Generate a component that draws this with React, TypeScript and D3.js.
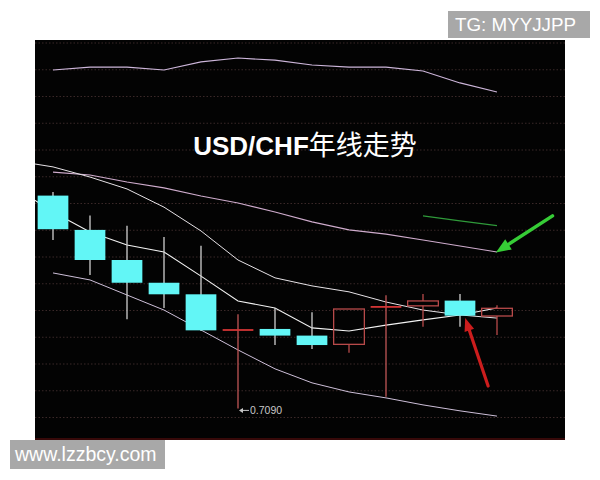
import React from "react";
import * as d3 from "d3";

// ---- data (yearly USD/CHF candles) ----
const years = [2006, 2007, 2008, 2009, 2010, 2011, 2012, 2013, 2014, 2015, 2016, 2017, 2018];
const opens = [1.318, 1.22, 1.134, 1.069, 1.036, 0.933, 0.937, 0.918, 0.893, 0.999, 1.003, 1.018, 0.974];
const highs = [1.328, 1.261, 1.232, 1.2, 1.175, 0.979, 0.997, 0.985, 0.994, 1.033, 1.037, 1.037, 1.005];
const lows = [1.191, 1.091, 0.965, 0.997, 0.931, 0.71, 0.891, 0.88, 0.869, 0.743, 0.943, 0.943, 0.92];
const closes = [1.222, 1.134, 1.069, 1.036, 0.933, 0.935, 0.918, 0.891, 0.994, 1.001, 1.017, 0.975, 0.996];

// indicator lines, one value per year incl. the year before the first candle
const lineYears = [2005, 2006, 2007, 2008, 2009, 2010, 2011, 2012, 2013, 2014, 2015, 2016, 2017, 2018];
const maLong = [null, 1.677, 1.685, 1.685, 1.677, 1.7, 1.711, 1.705, 1.691, 1.685, 1.685, 1.674, 1.64, 1.614];
const upperBand = [null, 1.385, 1.377, 1.357, 1.34, 1.317, 1.297, 1.271, 1.243, 1.22, 1.208, 1.191, 1.174, 1.157];
const maMid = [1.417, 1.4, 1.371, 1.337, 1.285, 1.217, 1.134, 1.083, 1.06, 1.043, 1.014, 0.991, 0.977, 0.968];
const maShort = [1.34, 1.271, 1.214, 1.177, 1.157, 1.088, 1.017, 0.997, 0.94, 0.931, 0.948, 0.963, 0.977, 0.997];
const lowerBand = [null, 1.097, 1.077, 1.034, 0.991, 0.934, 0.877, 0.823, 0.783, 0.757, 0.74, 0.72, 0.703, 0.688];
const greenLine = [null, null, null, null, null, null, null, null, null, null, null, 1.26, 1.246, 1.232];

// annotations
const lowLabel = "0.7090";
const lowLabelYear = 2011;
const lowLabelPrice = 0.71;
const greenArrow = { from: [2019.5, 1.26], to: [2017.97, 1.1554] };
const redArrow = { from: [2017.76, 0.774], to: [2017.14, 0.9683] };

const title1 = "USD/CHF";
const title2 = "年线走势";
const wmTop = "TG: MYYJJPP";
const wmBottom = "www.lzzbcy.com";

// ---- layout ----
const W = 600;
const H = 480;
const plot = { x0: 35, x1: 565, y0: 40, y1: 440 };

export default function App() {
  const x = d3.scaleLinear().domain([2006, 2018]).range([53, 497]);
  const y = d3.scaleLinear().domain([0.6197, 1.7626]).range([440, 40]);
  const step = x(2007) - x(2006);
  const bw = step * 0.83;

  const gridYs = d3.range(15).map((k) => 43 + k * 26.75);

  const mkLine = (vals: (number | null)[]) =>
    d3
      .line<number | null>()
      .defined((d) => d != null)
      .x((_, i) => x(lineYears[i]))
      .y((d) => y(d as number))(vals) || "";

  const lines = [
    { vals: maLong, color: "#cdb6da", w: 1.1 },
    { vals: upperBand, color: "#cfaccd", w: 1.1 },
    { vals: maMid, color: "#e6e2e6", w: 1.0 },
    { vals: maShort, color: "#f2f2f2", w: 1.1 },
    { vals: lowerBand, color: "#cdbfd8", w: 1.0 },
    { vals: greenLine, color: "#2f9a3a", w: 1.2 },
  ];

  const cyan = "#62f6f6";
  const red = "#b84a4a";
  const redBright = "#d23535";

  const arrow = (a: { from: number[]; to: number[] }, color: string, sw: number, hl: number, hw: number) => {
    const x1 = x(a.from[0]);
    const y1 = y(a.from[1]);
    const x2 = x(a.to[0]);
    const y2 = y(a.to[1]);
    const ang = Math.atan2(y2 - y1, x2 - x1);
    const bx = x2 - hl * Math.cos(ang);
    const by = y2 - hl * Math.sin(ang);
    const px = -Math.sin(ang) * hw / 2;
    const py = Math.cos(ang) * hw / 2;
    return (
      <g>
        <line x1={x1} y1={y1} x2={bx} y2={by} stroke={color} strokeWidth={sw} strokeLinecap="round" />
        <path d={`M${x2},${y2}L${bx + px},${by + py}L${bx - px},${by - py}Z`} fill={color} />
      </g>
    );
  };

  const lx = x(lowLabelYear);
  const ly = y(lowLabelPrice) + 2;

  return (
    <svg
      width={W}
      height={H}
      style={{ position: "absolute", left: 0, top: 0, background: "#ffffff" }}
      xmlns="http://www.w3.org/2000/svg"
    >
      <defs>
        <clipPath id="plotClip">
          <rect x={plot.x0} y={plot.y0} width={plot.x1 - plot.x0} height={plot.y1 - plot.y0} />
        </clipPath>
      </defs>
      <rect x={plot.x0} y={plot.y0} width={plot.x1 - plot.x0} height={plot.y1 - plot.y0} fill="#030303" />
      {gridYs.map((gy, i) => (
        <line
          key={i}
          x1={plot.x0}
          x2={plot.x1}
          y1={gy}
          y2={gy}
          stroke="#3a2828"
          strokeWidth={1}
          strokeDasharray="1.5,2"
        />
      ))}
      <line x1={plot.x0} x2={plot.x1} y1={plot.y1 - 1} y2={plot.y1 - 1} stroke="#4a0c0c" strokeWidth={1.5} />

      <text x={305} y={155} textAnchor="middle" fill="#ffffff">
        <tspan fontFamily="Liberation Sans, Arial, sans-serif" fontWeight="bold" fontSize={26}>
          {title1}
        </tspan>
        <tspan fontFamily="Noto Sans CJK SC, sans-serif" fontWeight={400} fontSize={27}>
          {title2}
        </tspan>
      </text>

      <g clipPath="url(#plotClip)">
        {lines.map((l, i) => (
          <path key={i} d={mkLine(l.vals)} fill="none" stroke={l.color} strokeWidth={l.w} />
        ))}

        {years.map((yr, i) => {
          const o = opens[i];
          const c = closes[i];
          const hi = highs[i];
          const lo = lows[i];
          const cx = x(yr);
          const doji = Math.abs(c - o) < 0.004;
          const up = c >= o;
          if (doji) {
            const my = y((o + c) / 2);
            return (
              <g key={yr}>
                <line x1={cx} x2={cx} y1={y(hi)} y2={y(lo)} stroke="#c05656" strokeWidth={1.3} />
                <line x1={cx - bw / 2} x2={cx + bw / 2} y1={my} y2={my} stroke={redBright} strokeWidth={1.8} />
              </g>
            );
          }
          if (up) {
            const top = y(c);
            const bot = y(o);
            return (
              <g key={yr}>
                <line x1={cx} x2={cx} y1={y(hi)} y2={top} stroke={red} strokeWidth={1.3} />
                <line x1={cx} x2={cx} y1={bot} y2={y(lo)} stroke={red} strokeWidth={1.3} />
                <rect x={cx - bw / 2} y={top} width={bw} height={bot - top} fill="none" stroke={red} strokeWidth={1.3} />
              </g>
            );
          }
          const top = y(o);
          const bot = y(c);
          return (
            <g key={yr}>
              <line x1={cx} x2={cx} y1={y(hi)} y2={y(lo)} stroke="#cfcfcf" strokeWidth={1.3} />
              <rect x={cx - bw / 2} y={top} width={bw} height={bot - top} fill={cyan} />
            </g>
          );
        })}

        {/* low label */}
        <line x1={lx + 2} x2={lx + 11} y1={ly} y2={ly} stroke="#c8c8c8" strokeWidth={1} />
        <path d={`M${lx + 1},${ly}L${lx + 5},${ly - 2.5}L${lx + 5},${ly + 2.5}Z`} fill="#c8c8c8" />
        <text x={lx + 12} y={ly + 3.8} fontSize={10.5} fill="#c8c8c8" fontFamily="Liberation Sans, Arial, sans-serif">
          {lowLabel}
        </text>
      </g>

      {arrow(greenArrow, "#36cc36", 3.5, 15, 12)}
      {arrow(redArrow, "#cc1d1d", 3.2, 13, 10)}

      {/* watermarks */}
      <rect x={448} y={11} width={142} height={27} fill="#a8a8a8" />
      <text x={455} y={31} fontSize={18.8} fill="#ffffff" fontFamily="Liberation Sans, Arial, sans-serif">
        {wmTop}
      </text>
      <rect x={10} y={440} width={155} height={29} fill="#a8a8a8" />
      <text x={15} y={461} fontSize={19.5} fill="#ffffff" fontFamily="Liberation Sans, Arial, sans-serif">
        {wmBottom}
      </text>
    </svg>
  );
}
